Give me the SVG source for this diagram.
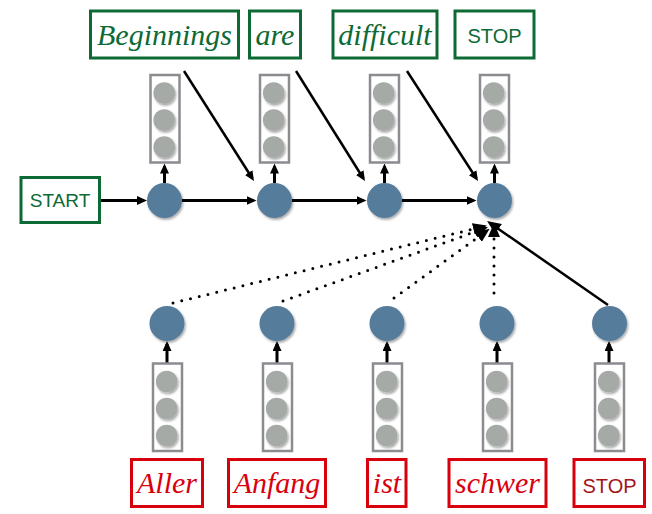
<svg xmlns="http://www.w3.org/2000/svg" width="652" height="514" viewBox="0 0 652 514">
<defs>
<style>
.gbox{fill:#fff;stroke:#0d6a35;stroke-width:3}
.rbox{fill:#fff;stroke:#d9000e;stroke-width:3}
.it{font-family:"Liberation Serif","Times New Roman",serif;font-style:italic;font-size:30px;text-anchor:middle}
.sans{font-family:"Liberation Sans",Arial,sans-serif;font-size:20px;text-anchor:middle}
.g{fill:#0d6a35}
.r{fill:#d9000e}
.rs{fill:#a3141a}
.vec{fill:#fff;stroke:#8b8b90;stroke-width:2.5}
.cell{fill:#a6aaa7;filter:url(#sh)}
.hid{fill:#577c9b;filter:url(#sh)}
.ar{fill:none;stroke:#000;stroke-width:3;marker-end:url(#ah)}
.dg{fill:none;stroke:#000;stroke-width:2.5;marker-end:url(#ah)}
.cv{fill:none;stroke:#000;stroke-width:2.5;marker-end:url(#ahb)}
.dot{fill:none;stroke:#000;stroke-width:3;stroke-linecap:round;stroke-dasharray:0 9;marker-end:url(#ahb)}
</style>
<filter id="sh" x="-30%" y="-30%" width="160%" height="160%">
<feDropShadow dx="1.2" dy="1.8" stdDeviation="1" flood-color="#000" flood-opacity="0.35"/>
</filter>
<marker id="ah" viewBox="0 0 10 9" markerWidth="10" markerHeight="9" refX="7" refY="4.5" orient="auto" markerUnits="userSpaceOnUse">
<path d="M0,0 L10,4.5 L0,9 z" fill="#000"/>
</marker>
<marker id="ahb" viewBox="0 0 14 12" markerWidth="14" markerHeight="12" refX="11" refY="6" orient="auto" markerUnits="userSpaceOnUse">
<path d="M0,0 L14,6 L0,12 z" fill="#000"/>
</marker>
<g id="vecT">
<rect class="vec" x="-14.5" y="0" width="29" height="87.5"/>
<circle class="cell" cx="-0.8" cy="18" r="10.8"/>
<circle class="cell" cx="-0.8" cy="45" r="10.8"/>
<circle class="cell" cx="-0.8" cy="72" r="10.8"/>
</g>
</defs>

<g id="connectors">
<line class="ar" x1="101" y1="200.5" x2="144" y2="200.5"/>
<line class="ar" x1="182" y1="200.5" x2="253.5" y2="200.5"/>
<line class="ar" x1="292" y1="200.5" x2="363.5" y2="200.5"/>
<line class="ar" x1="402" y1="200.5" x2="473.5" y2="200.5"/>
<line class="ar" x1="164.5" y1="183" x2="164.5" y2="166.5"/>
<line class="ar" x1="274.5" y1="183" x2="274.5" y2="166.5"/>
<line class="ar" x1="384.5" y1="183" x2="384.5" y2="166.5"/>
<line class="ar" x1="494.5" y1="183" x2="494.5" y2="166.5"/>
<line class="dg" x1="184" y1="71" x2="252.4" y2="178.5"/>
<line class="dg" x1="296" y1="71" x2="363.4" y2="178.5"/>
<line class="dg" x1="407" y1="71" x2="476.4" y2="178.5"/>
<line class="ar" x1="167" y1="363" x2="167" y2="344"/>
<line class="ar" x1="277" y1="363" x2="277" y2="344"/>
<line class="ar" x1="387" y1="363" x2="387" y2="344"/>
<line class="ar" x1="497" y1="363" x2="497" y2="344"/>
<line class="ar" x1="609" y1="363" x2="609" y2="344"/>
<line class="dot" x1="173" y1="303" x2="484" y2="226.3"/>
<line class="dot" x1="283" y1="301" x2="485.2" y2="228.1"/>
<line class="dot" x1="394" y1="298" x2="487.2" y2="230.6"/>
<line class="dot" x1="494" y1="293" x2="494" y2="226"/>
<line class="cv" x1="608" y1="305" x2="489.5" y2="222.7"/>
</g>

<g id="start"><rect class="gbox" x="21" y="177.5" width="78.5" height="45"/><text class="sans g" x="60" y="207" style="font-size:19px">START</text></g>

<g id="y1"><rect class="gbox" x="90.5" y="11" width="148" height="47"/><text class="it g" x="164.5" y="45">Beginnings</text></g>
<g id="y2"><rect class="gbox" x="249.5" y="11" width="51" height="47"/><text class="it g" x="275" y="45">are</text></g>
<g id="y3"><rect class="gbox" x="333" y="11" width="104" height="47"/><text class="it g" x="385" y="45">difficult</text></g>
<g id="y4"><rect class="gbox" x="455" y="11" width="79" height="47"/><text class="sans g" x="494.5" y="43">STOP</text></g>

<g id="ov1"><use href="#vecT" x="165" y="75"/></g>
<g id="ov2"><use href="#vecT" x="274.5" y="75"/></g>
<g id="ov3"><use href="#vecT" x="384.5" y="75"/></g>
<g id="ov4"><use href="#vecT" x="494.5" y="75"/></g>

<g id="d1"><circle class="hid" cx="164.5" cy="200.5" r="17.5"/></g>
<g id="d2"><circle class="hid" cx="274.5" cy="200.5" r="17.5"/></g>
<g id="d3"><circle class="hid" cx="384.5" cy="200.5" r="17.5"/></g>
<g id="d4"><circle class="hid" cx="494.5" cy="200.5" r="17.5"/></g>

<g id="e1"><circle class="hid" cx="167" cy="323.5" r="17.5"/></g>
<g id="e2"><circle class="hid" cx="277" cy="323.5" r="17.5"/></g>
<g id="e3"><circle class="hid" cx="387" cy="323.5" r="17.5"/></g>
<g id="e4"><circle class="hid" cx="497" cy="323.5" r="17.5"/></g>
<g id="e5"><circle class="hid" cx="609.5" cy="323.5" r="17.5"/></g>

<g id="iv1"><use href="#vecT" x="167.5" y="363.5"/></g>
<g id="iv2"><use href="#vecT" x="277.5" y="363.5"/></g>
<g id="iv3"><use href="#vecT" x="387.5" y="363.5"/></g>
<g id="iv4"><use href="#vecT" x="497.5" y="363.5"/></g>
<g id="iv5"><use href="#vecT" x="609.5" y="363.5"/></g>

<g id="x1"><rect class="rbox" x="131.5" y="459.5" width="71" height="47"/><text class="it r" x="167" y="493">Aller</text></g>
<g id="x2"><rect class="rbox" x="228.5" y="459.5" width="97" height="47"/><text class="it r" x="277" y="493">Anfang</text></g>
<g id="x3"><rect class="rbox" x="367.5" y="459.5" width="38.5" height="47"/><text class="it r" x="387" y="493">ist</text></g>
<g id="x4"><rect class="rbox" x="449" y="459.5" width="97" height="47"/><text class="it r" x="497.5" y="493">schwer</text></g>
<g id="x5"><rect class="rbox" x="574" y="459.5" width="70.5" height="47"/><text class="sans rs" x="609.5" y="493">STOP</text></g>
</svg>
